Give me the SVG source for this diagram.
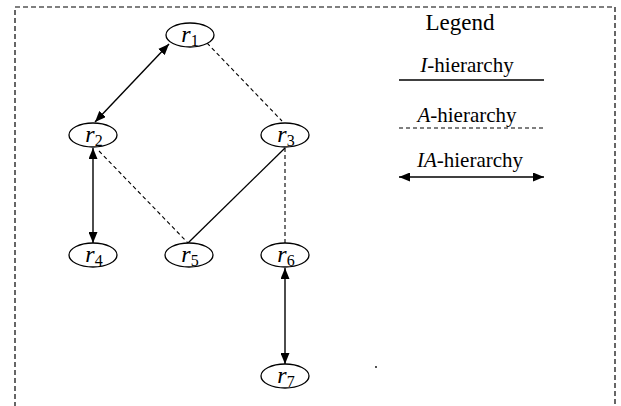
<svg xmlns="http://www.w3.org/2000/svg" width="621" height="406" viewBox="0 0 621 406">
  <style>
    .frame { fill: none; stroke: #000; stroke-width: 1.2; stroke-dasharray: 5 3; }
    .node ellipse { fill: #fff; stroke: #000; stroke-width: 1.3; }
    .lbl { font-family: "Liberation Serif", "Times New Roman", serif; font-size: 24px; font-style: italic; text-anchor: middle; fill: #000; }
    .sub { font-size: 16px; font-style: normal; }
    .solid { stroke: #000; stroke-width: 1.3; fill: none; }
    .dash { stroke: #000; stroke-width: 1.1; fill: none; stroke-dasharray: 4 3; }
    .both { stroke: #000; stroke-width: 1.4; fill: none; marker-start: url(#head); marker-end: url(#head); }
    .legend { font-family: "Liberation Serif", "Times New Roman", serif; font-size: 21px; fill: #000; text-anchor: middle; }
    .legend .it { font-style: italic; }
  </style>
  <defs>
    <marker id="head" viewBox="0 0 11 9" refX="11" refY="4.5" markerWidth="11" markerHeight="9" markerUnits="userSpaceOnUse" orient="auto-start-reverse">
      <path d="M0,0 L11,4.5 L0,9 Z" fill="#000"/>
    </marker>
  </defs>

  <rect x="15" y="7" width="600" height="420" class="frame"/>

  <g id="connectors">
    <line class="both" x1="95" y1="122" x2="169" y2="44"/>
    <line class="dash" x1="207" y1="43" x2="282" y2="121"/>
    <line class="both" x1="93" y1="148" x2="93" y2="243"/>
    <line class="dash" x1="99" y1="151" x2="188" y2="243"/>
    <line class="solid" x1="285" y1="148" x2="188" y2="243"/>
    <line class="dash" x1="285" y1="148" x2="285" y2="243"/>
    <line class="both" x1="285" y1="268" x2="285" y2="364"/>
  </g>

  <g id="r1" class="node">
    <ellipse cx="190" cy="35" rx="24" ry="12"/>
    <text class="lbl" x="190" y="42">r<tspan class="sub" dy="4">1</tspan></text>
  </g>
  <g id="r2" class="node">
    <ellipse cx="93" cy="135" rx="24" ry="12"/>
    <text class="lbl" x="94" y="142">r<tspan class="sub" dy="4">2</tspan></text>
  </g>
  <g id="r3" class="node">
    <ellipse cx="285" cy="135" rx="24" ry="12"/>
    <text class="lbl" x="286" y="142">r<tspan class="sub" dy="4">3</tspan></text>
  </g>
  <g id="r4" class="node">
    <ellipse cx="93" cy="255" rx="24" ry="12"/>
    <text class="lbl" x="94" y="262">r<tspan class="sub" dy="4">4</tspan></text>
  </g>
  <g id="r5" class="node">
    <ellipse cx="189" cy="255" rx="24" ry="12"/>
    <text class="lbl" x="190" y="262">r<tspan class="sub" dy="4">5</tspan></text>
  </g>
  <g id="r6" class="node">
    <ellipse cx="285" cy="255" rx="24" ry="12"/>
    <text class="lbl" x="286" y="262">r<tspan class="sub" dy="4">6</tspan></text>
  </g>
  <g id="r7" class="node">
    <ellipse cx="285" cy="376" rx="24" ry="12"/>
    <text class="lbl" x="286" y="383">r<tspan class="sub" dy="4">7</tspan></text>
  </g>

  <g id="legend">
    <text class="legend" x="460" y="30" style="font-size:23px">Legend</text>
    <text class="legend" x="467" y="72"><tspan class="it">I</tspan>-hierarchy</text>
    <line class="solid" x1="399" y1="80" x2="544" y2="80"/>
    <text class="legend" x="467" y="122"><tspan class="it">A</tspan>-hierarchy</text>
    <line class="dash" x1="399" y1="128" x2="544" y2="128"/>
    <text class="legend" x="470" y="167"><tspan class="it">IA</tspan>-hierarchy</text>
    <line class="both" x1="399" y1="177" x2="544" y2="177"/>
  </g>

  <circle cx="376" cy="367" r="0.9" fill="#000"/>
</svg>
